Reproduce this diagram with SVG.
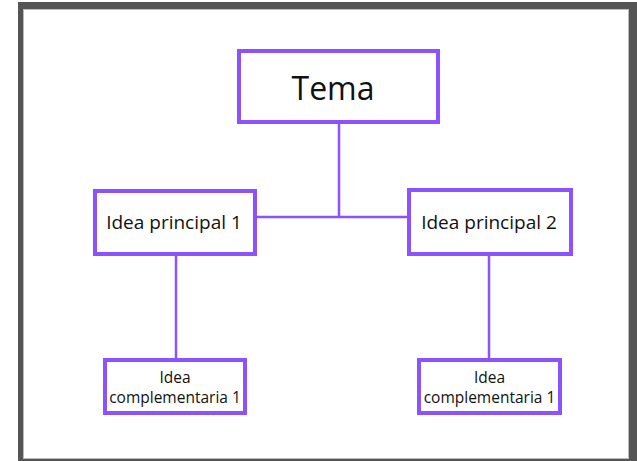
<svg xmlns="http://www.w3.org/2000/svg" width="637" height="461" viewBox="0 0 637 461">
<style>
.box{fill:#ffffff;stroke:#8c52ff;stroke-width:4}
.ln{stroke:#8c52ff;stroke-width:2.5;fill:none}
text{font-family:"Open Sans","Noto Sans",sans-serif;fill:#111;text-anchor:middle}
</style>
<rect x="18" y="2" width="619" height="459" fill="#555555"/>
<rect x="23.5" y="9.5" width="605" height="449" fill="#ffffff" stroke="#bbbbbb" stroke-width="1"/>
<g id="connectors">
<line class="ln" x1="339" y1="123" x2="339" y2="217"/>
<line class="ln" x1="257" y1="217" x2="408" y2="217"/>
<line class="ln" x1="176" y1="255" x2="176" y2="358"/>
<line class="ln" x1="489" y1="255" x2="489" y2="358"/>
</g>
<g id="tema">
<rect class="box" x="239" y="51" width="199" height="71"/>
<text x="333" y="100" font-size="32">Tema</text>
</g>
<g id="idea1">
<rect class="box" x="95" y="191" width="160" height="63"/>
<text x="174" y="229" font-size="19">Idea principal 1</text>
</g>
<g id="idea2">
<rect class="box" x="409" y="190" width="162" height="64"/>
<text x="489" y="229" font-size="19">Idea principal 2</text>
</g>
<g id="comp1">
<rect class="box" x="105" y="360" width="140" height="53"/>
<text x="175" y="383" font-size="15.5">Idea</text>
<text x="175" y="403" font-size="15.5">complementaria 1</text>
</g>
<g id="comp2">
<rect class="box" x="419" y="360" width="141" height="53"/>
<text x="489.5" y="383" font-size="15.5">Idea</text>
<text x="489.5" y="403" font-size="15.5">complementaria 1</text>
</g>
</svg>
